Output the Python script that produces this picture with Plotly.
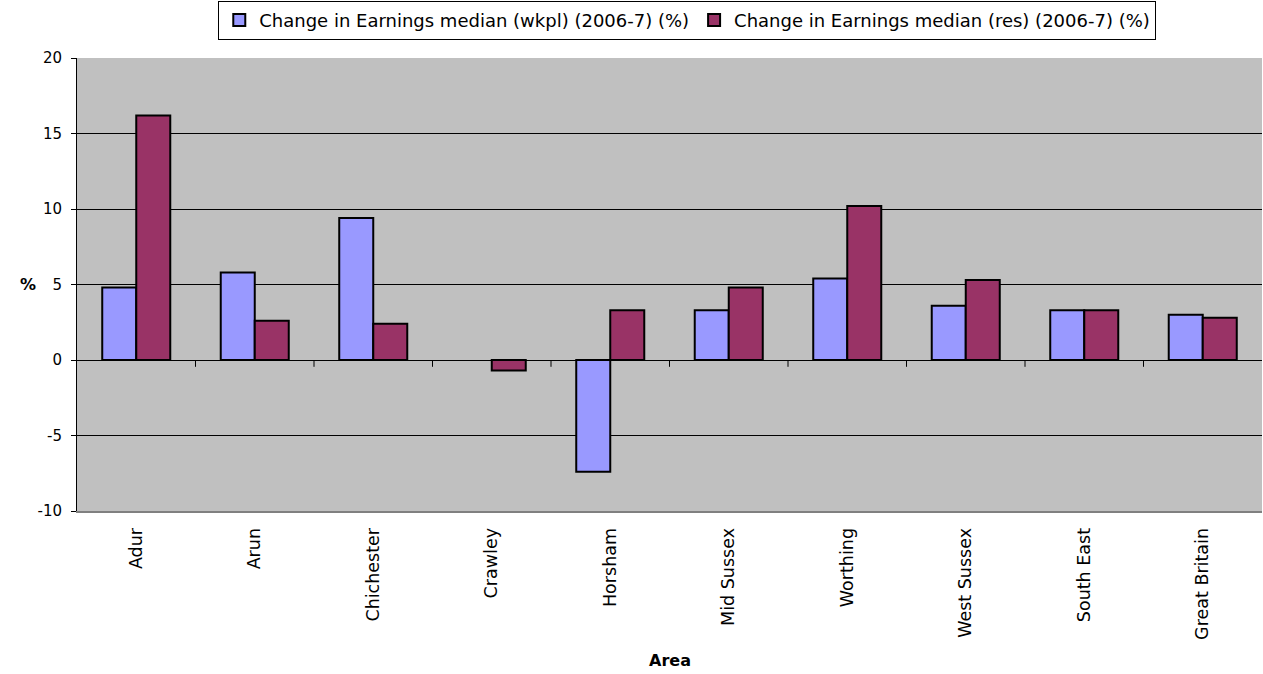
import plotly.graph_objects as go

areas = ["Adur", "Arun", "Chichester", "Crawley", "Horsham", "Mid Sussex",
         "Worthing", "West Sussex", "South East", "Great Britain"]
wkpl = [4.8, 5.8, 9.4, None, -7.4, 3.3, 5.4, 3.6, 3.3, 3.0]
res = [16.2, 2.6, 2.4, -0.7, 3.3, 4.8, 10.2, 5.3, 3.3, 2.8]
name_wkpl = "Change in Earnings median (wkpl) (2006-7) (%)"
name_res = "Change in Earnings median (res) (2006-7) (%)"
y_ticks = [-10, -5, 0, 5, 10, 15, 20]
y_ticktext = ["-10", "-5", "0", "5", "10", "15", "20"]

fig = go.Figure()
fig.add_trace(go.Bar(x=areas, y=wkpl, name=name_wkpl,
                     marker=dict(color="#9999FF", line=dict(color="#000000", width=2))))
fig.add_trace(go.Bar(x=areas, y=res, name=name_res,
                     marker=dict(color="#993366", line=dict(color="#000000", width=2))))

# category boundary tick marks on the zero line
for i in range(1, len(areas)):
    fig.add_shape(type="line", xref="x", yref="y", x0=i - 0.5, x1=i - 0.5,
                  y0=0, y1=-0.45, line=dict(color="#000000", width=1))

fig.update_layout(
    width=1263, height=674,
    margin=dict(l=77, r=1, t=58, b=163),
    paper_bgcolor="#FFFFFF", plot_bgcolor="#C0C0C0",
    barmode="group", bargap=0.426, bargroupgap=0,
    font=dict(family="DejaVu Sans", size=12, color="#000000"),
    showlegend=True,
    legend=dict(orientation="h", x=0.515, xanchor="center", y=1.04, yanchor="bottom",
                bgcolor="#FFFFFF", bordercolor="#000000", borderwidth=1,
                font=dict(family="DejaVu Sans", size=18),
                itemwidth=30, traceorder="normal", tracegroupgap=0),
    xaxis=dict(type="category", tickangle=-90, showgrid=False, ticks="",
               showline=True, linecolor="#808080", linewidth=2, mirror=False,
               ticklabelstandoff=8,
               tickfont=dict(family="DejaVu Sans", size=17.5)),
    yaxis=dict(range=[-10, 20], tickvals=y_ticks, ticktext=y_ticktext,
               showgrid=True, gridcolor="#000000",
               gridwidth=1, zeroline=True, zerolinecolor="#000000", zerolinewidth=1,
               showline=True, linecolor="#000000", linewidth=1, ticks="outside",
               ticklen=5, tickcolor="#000000", ticklabelstandoff=6,
               tickfont=dict(family="DejaVu Sans", size=15)),
    annotations=[
        dict(text="<b>%</b>", xref="paper", yref="paper", x=-0.0498, y=0.5,
             showarrow=False, font=dict(family="DejaVu Sans", size=16)),
        dict(text="<b>Area</b>", xref="paper", yref="paper", x=0.5, y=-0.331,
             showarrow=False, font=dict(family="DejaVu Sans", size=16), yanchor="middle"),
    ],
)
fig.write_html("out.html", config={"displayModeBar": False},
               post_script="document.body.style.margin='0px';document.body.style.overflow='hidden';")
